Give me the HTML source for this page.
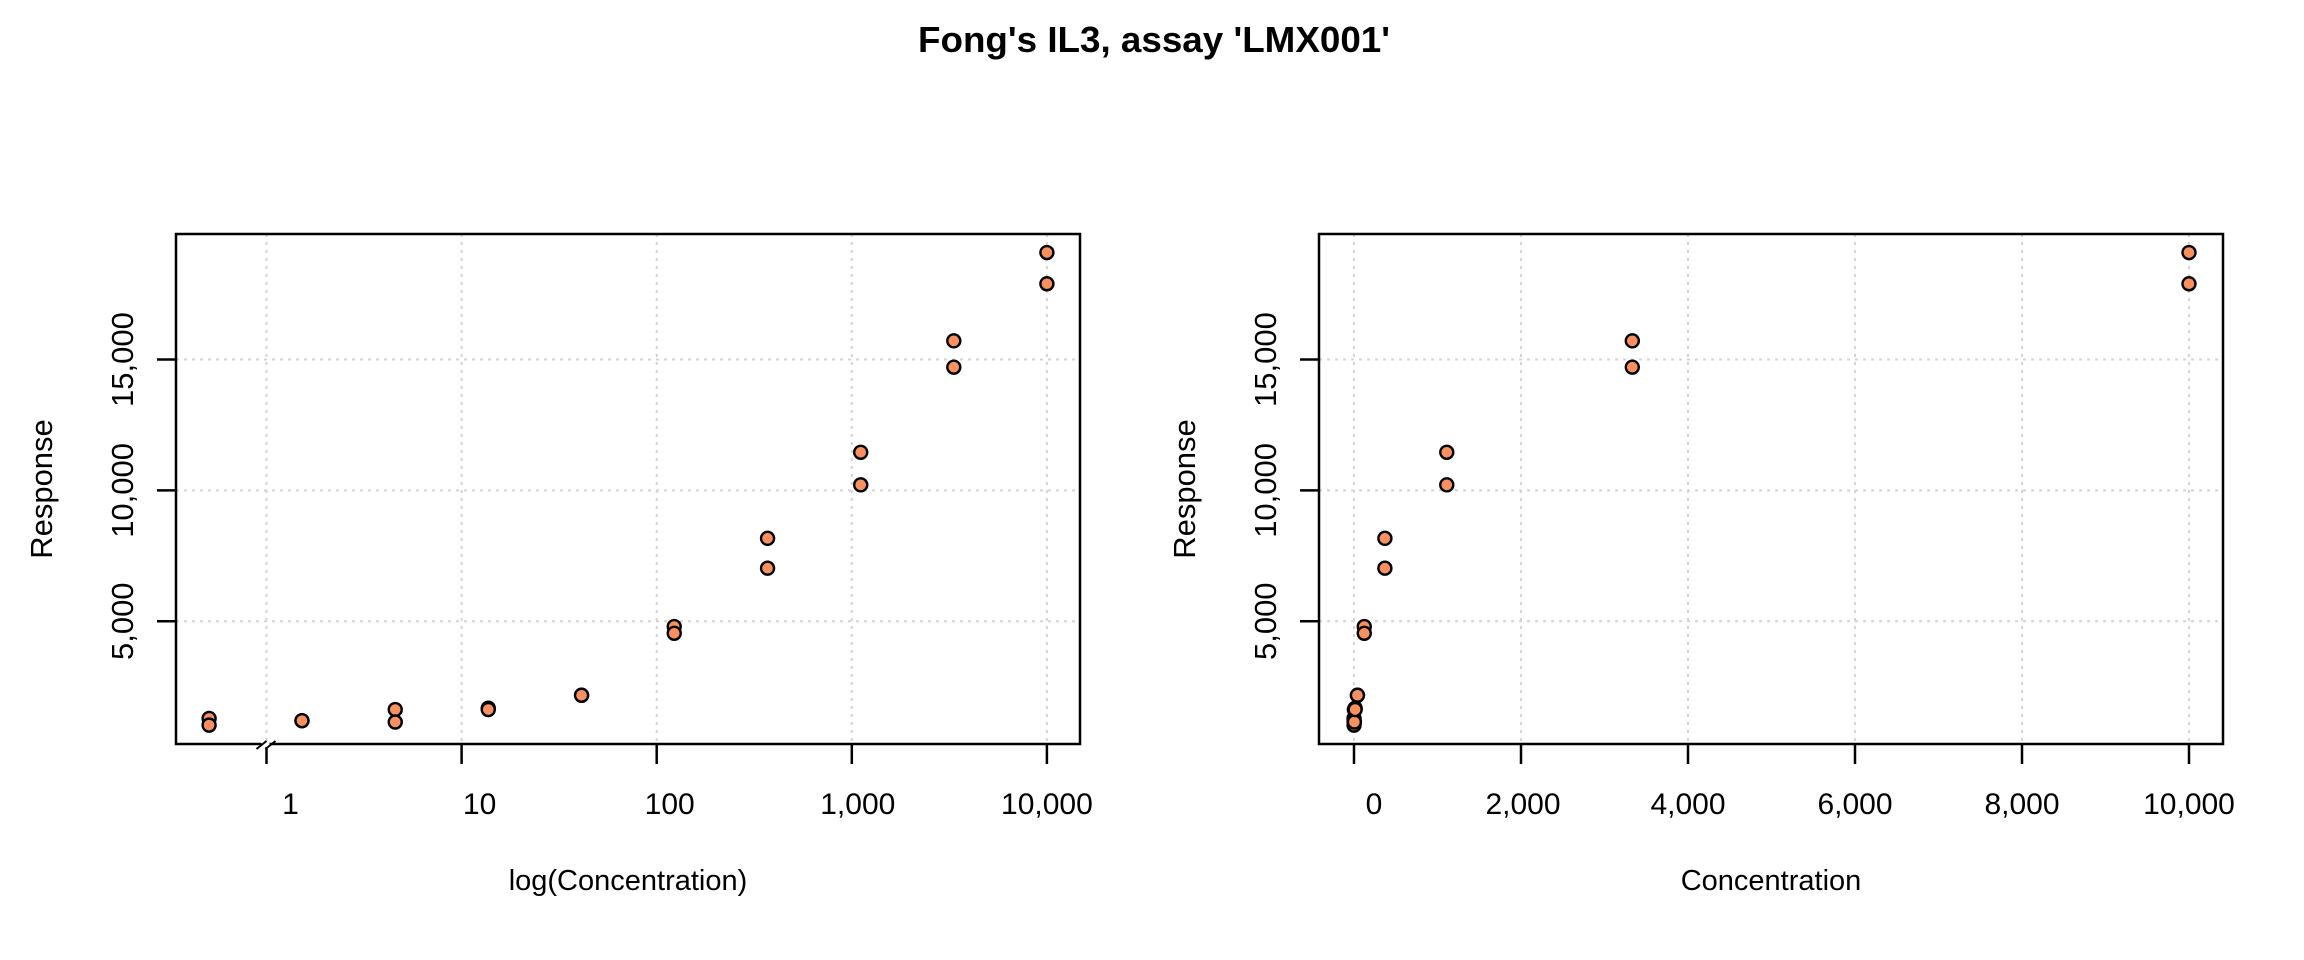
<!DOCTYPE html>
<html><head><meta charset="utf-8"><style>
html,body{margin:0;padding:0;background:#fff;}
svg{display:block;font-family:"Liberation Sans",Arial,sans-serif;}
</style></head><body>
<svg id="chart" width="2304" height="960" viewBox="0 0 2304 960" xmlns="http://www.w3.org/2000/svg">
<text x="1154" y="52" text-anchor="middle" font-size="36" font-weight="bold" textLength="472" lengthAdjust="spacingAndGlyphs">Fong's IL3, assay 'LMX001'</text>
<g id="left"></g>
<g id="right"></g>
</svg>
<script>
const concentrations = [0.508,0.508,1.52,1.52,4.57,4.57,13.7,13.7,41.2,41.2,123,123,370,370,1111,1111,3333,3333,10000,10000];
const responses = [1286,1031,1201,1201,1627,1150,1678,1627,2172,2172,4796,4540,8169,7027,11457,10213,15715,14710,19089,17896];
const yTicks = [5000,10000,15000];
const yTickLabels = ["5,000","10,000","15,000"];
const logTicks = [1,10,100,1000,10000];
const logTickLabels = ["1","10","100","1,000","10,000"];
const linTicks = [0,2000,4000,6000,8000,10000];
const linTickLabels = ["0","2,000","4,000","6,000","8,000","10,000"];

const NS="http://www.w3.org/2000/svg";
function mk(parent,tag,attrs,text){const e=document.createElementNS(NS,tag);for(const k in attrs)e.setAttribute(k,attrs[k]);if(text!==undefined)e.textContent=text;parent.appendChild(e);return e;}
const TOP=234,BOT=744;
function yScale(v){return 752.1 - v*0.02617;}

function panel(g,box,xScale,ticks,labels,labelOffsets,title,xs,brk){
  ticks.forEach((t,i)=>{const x=xScale(t);
    const l=mk(g,'line',{x1:x,x2:x,y1:TOP,y2:BOT,stroke:'#d3d3d3','stroke-width':2,'stroke-dasharray':'3,5'});
    
    
  });
  yTicks.forEach(t=>{const y=yScale(t);
    const l=mk(g,'line',{x1:box[0],x2:box[1],y1:y,y2:y,stroke:'#d3d3d3','stroke-width':2,'stroke-dasharray':'3,5'});
    
    
  });
  xs.forEach((c,i)=>{
    const p=mk(g,'circle',{cx:xScale(c),cy:yScale(responses[i]),r:6.5,fill:'#F8905F',stroke:'#000','stroke-width':2.4});
    
    
  });
  const r=mk(g,'rect',{x:box[0],y:TOP,width:box[1]-box[0],height:BOT-TOP,fill:'none',stroke:'#000','stroke-width':2.5});
  
  
  ticks.forEach((t,i)=>{const x=xScale(t);
    const l=mk(g,'line',{x1:x,x2:x,y1:BOT,y2:764,stroke:'#000','stroke-width':2.5});
    
    
    const tx=mk(g,'text',{x:x+labelOffsets[i],y:814,'text-anchor':'middle','font-size':30},labels[i]);
    
    
  });
  if(brk){const x=xScale(1);
    mk(g,'rect',{x:x-5,y:BOT-3,width:8,height:6,fill:'#fff'});
    const b=mk(g,'path',{d:`M${x-10},${BOT+5} L${x},${BOT-3} M${x-1},${BOT+5} L${x+9},${BOT-3}`,stroke:'#000','stroke-width':2,fill:'none'});
    
    
  }
  yTicks.forEach((t,i)=>{const y=yScale(t);
    const l=mk(g,'line',{x1:box[0]-19,x2:box[0],y1:y,y2:y,stroke:'#000','stroke-width':2.5});
    
    
    const tx=mk(g,'text',{x:0,y:0,'text-anchor':'middle','font-size':31,transform:`translate(${box[0]-43},${y}) rotate(-90)`},yTickLabels[i]);
    
    
  });
  const yt=mk(g,'text',{x:0,y:0,'text-anchor':'middle','font-size':31,transform:`translate(${box[0]-124},489) rotate(-90)`},'Response');
  
  
  const xt=mk(g,'text',{x:(box[0]+box[1])/2,y:890,'text-anchor':'middle','font-size':29},title);
  
  
}
const logX=c=>266.5+Math.log10(c)*195.1;
const linX=c=>1354+c*0.0835;
panel(document.getElementById('left'),[176,1080],logX,logTicks,logTickLabels,[24,18,13,6,0],'log(Concentration)',concentrations,true);
panel(document.getElementById('right'),[1319,2223],linX,linTicks,linTickLabels,[20,2,0,0,0,0],'Concentration',concentrations,false);
</script>
</body></html>
